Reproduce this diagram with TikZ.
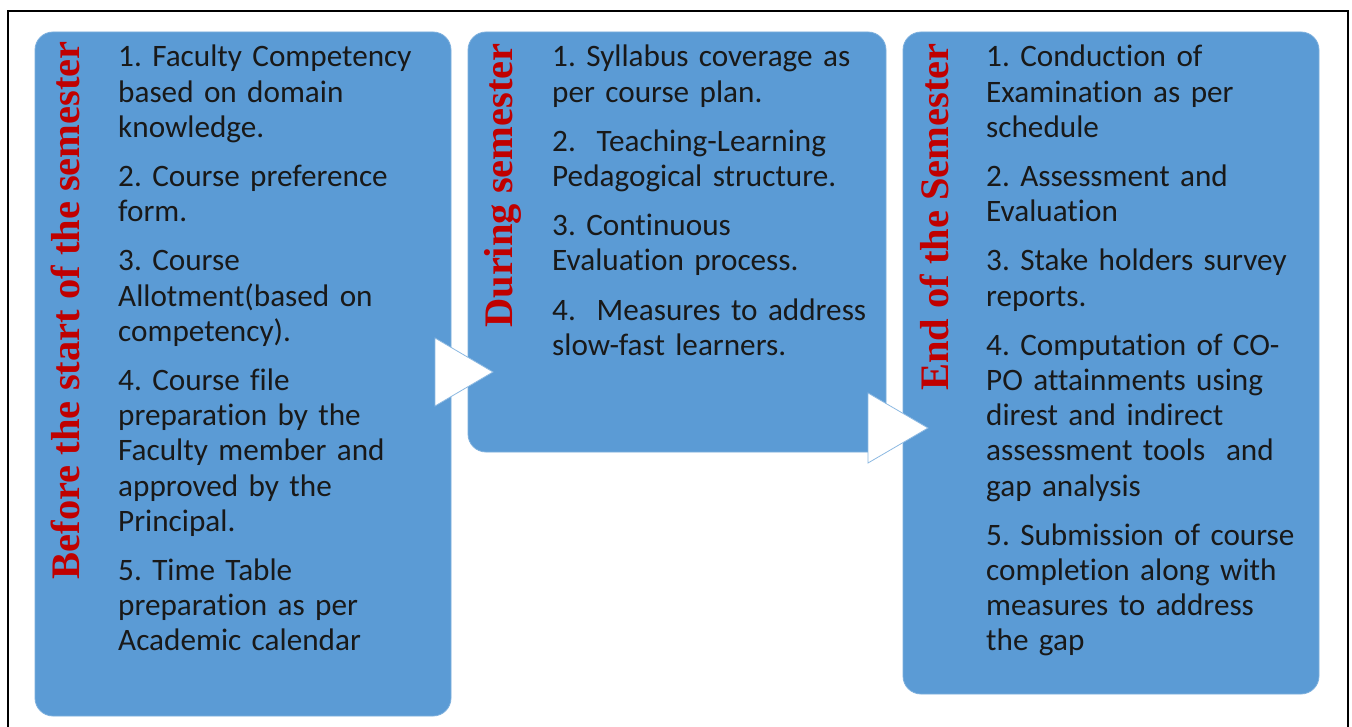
\documentclass[tikz,border=0pt]{standalone}
\usepackage{fontspec}
\setmainfont{Carlito}[Ligatures=NoCommon]
\newfontfamily\headfont{Liberation Serif}
\usetikzlibrary{calc}
\frenchspacing
\definecolor{stageblue}{HTML}{5B9BD5}
\definecolor{stagered}{HTML}{C00000}
\tikzset{
  stagebox/.style={draw=stageblue!80!white, line width=0.8pt, fill=stageblue,
    rounded corners=18pt, anchor=north west, inner sep=0pt, outer sep=0pt},
  stagetitle/.style={rotate=90, anchor=base east, inner sep=0pt, text=stagered,
    font=\headfont\bfseries\fontsize{40.5}{48}\selectfont},
  itemtext/.style={anchor=base west, inner sep=0pt, text width=330pt, align=left,
    font=\fontsize{31.2}{35.2}\selectfont\frenchspacing, text=black!90},
  flowtri/.style={fill=white, draw=stageblue!70!white, line width=0.8pt, line join=miter}
}
\begin{document}
\begin{tikzpicture}[x=1pt,y=1pt]
  \useasboundingbox (0,0) rectangle (1352,-727);
  \fill[white] (0,0) rectangle (1352,-727);
  % outer frame, running off the bottom edge
  \begin{scope}
    \clip (0,0) rectangle (1352,-727);
    \draw[line width=2pt] (8,-11) rectangle (1348,-780);
  \end{scope}

  % the three stages
  \node[stagebox, minimum width=416pt, minimum height=684pt] (b1) at (35,-32) {};
  \node[stagebox, minimum width=418pt, minimum height=420pt] (b2) at (468,-32) {};
  \node[stagebox, minimum width=416pt, minimum height=662pt] (b3) at (903,-32) {};

  % vertical stage titles
  \node[stagetitle] (h1) at ($(b1.north west)+(44,-9)$) {Before the start of the semester};
  \node[stagetitle] (h2) at ($(b2.north west)+(44,-11)$) {During semester};
  \node[stagetitle] (h3) at ($(b3.north west)+(45,-11)$) {End of the Semester};

  % activities of each stage
  \node[itemtext] (t1) at ($(b1.north west)+(83,-35)$) {%
    1. Faculty Competency\\based on domain\\knowledge.\\[14pt]
    2. Course preference\\form.\\[14pt]
    3. Course\\Allotment(based on\\competency).\\[14pt]
    4. Course file\\preparation by the\\Faculty member and\\approved by the\\Principal.\\[14pt]
    5. Time Table\\preparation as per\\Academic calendar};
  \node[itemtext] (t2) at ($(b2.north west)+(84,-35)$) {%
    1. Syllabus coverage as\\per course plan.\\[14pt]
    2.~ Teaching-Learning\\Pedagogical structure.\\[14pt]
    3. Continuous\\Evaluation process.\\[14pt]
    4.~ Measures to address\\slow-fast learners.};
  \node[itemtext] (t3) at ($(b3.north west)+(83,-35)$) {%
    1. Conduction of\\Examination as per\\schedule\\[14pt]
    2. Assessment and\\Evaluation\\[14pt]
    3. Stake holders survey\\reports.\\[14pt]
    4. Computation of CO-\\PO attainments using\\direst and indirect\\assessment tools~ and\\gap analysis\\[14pt]
    5. Submission of course\\completion along with\\measures to address\\the gap};

  % flow markers between the stages
  \draw[flowtri] (435,-338) -- (493,-372) -- (435,-406) -- cycle;
  \draw[flowtri] (868,-393) -- (928,-428) -- (868,-463) -- cycle;
\end{tikzpicture}
\end{document}
